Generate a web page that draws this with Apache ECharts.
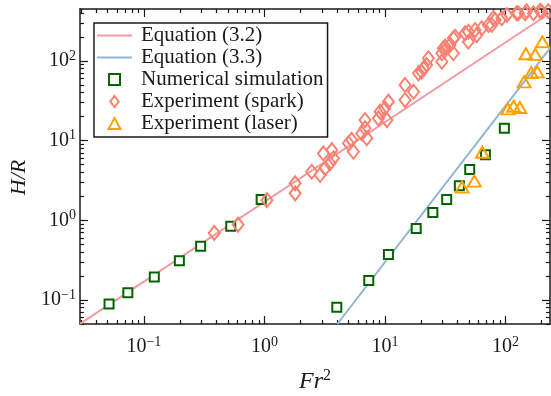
<!DOCTYPE html>
<html>
<head>
<meta charset="utf-8">
<script src="https://cdn.jsdelivr.net/npm/echarts@6/dist/echarts.min.js"></script>
<style>
  html, body { margin: 0; padding: 0; background: #fff; }
  #chart { width: 551px; height: 396px; }
</style>
</head>
<body>
<div id="chart"></div>
<script>
// axis ranges and decade ticks
const xRange = [0.0295, 234.6]
const yRange = [0.05, 448]
const xMajor = [0.1, 1, 10, 100]
const yMajor = [0.1, 1, 10, 100]

// Equation (3.2) and (3.3), end points
const eq32X = [0.0295, 234.6]
const eq32Y = [0.0502, 399]
const eq33X = [4.03, 234.6]
const eq33Y = [0.05, 145]

// numerical simulation
const simX = [0.0514, 0.0736, 0.122, 0.197, 0.296, 0.526, 0.94, 3.99, 7.35, 10.7, 18.2, 25.0, 32.6, 41.5, 50.6, 68.3, 98.1]
const simY = [0.089, 0.123, 0.194, 0.310, 0.473, 0.841, 1.83, 0.081, 0.176, 0.373, 0.787, 1.25, 1.83, 2.71, 4.34, 6.63, 14.3]

// experiment (spark)
const sparkX = [0.384, 0.605, 1.05, 1.8, 1.8, 2.47, 2.9, 3.09, 3.19, 3.63, 3.74, 3.5, 4.98, 5.3, 5.48, 6.43, 6.84, 7.08, 6.84,
  8.83, 9.12, 10.4, 10.7, 10.0, 14.7, 14.7, 17.3, 19.0, 20.2, 20.9, 23.0, 22.2, 29.7, 29.7, 31.6, 31.6, 37.0, 30.6, 37.0, 34.7,
  38.3, 46.3, 49.3, 49.3, 56.0, 57.9, 63.7, 72.3, 77.1, 79.5, 82.2, 93.4, 103, 124, 128, 146, 150, 171, 194, 200, 227]
const sparkY = [0.695, 0.883, 1.79, 2.18, 2.91, 4.07, 3.7, 6.9, 4.49, 7.6, 6.0, 5.19, 9.25, 10.2, 7.26, 12.3, 18.1, 10.7, 14.3,
  19.0, 23.1, 18.1, 30.8, 25.4, 32.3, 49.9, 41.1, 69.9, 73.2, 80.7, 108, 88.9, 97.7, 125, 137, 151, 125, 144, 192, 158,
  201, 222, 232, 174, 244, 211, 257, 282, 282, 343, 326, 343, 377, 396, 396, 396, 420, 396, 425, 414, 420]

// experiment (laser)
const laserX = [43.7, 55.3, 64.4, 105, 117, 132, 143, 164, 184, 148, 177, 203]
const laserY = [2.61, 3.1, 7.14, 25, 27, 26, 54.6, 71.4, 72.9, 123, 121, 174]

const zip = (xs, ys) => xs.map((x, i) => [x, ys[i]])

// minor ticks 2..9 of each decade inside the range
function minorTicks (range) {
  let out = []
  for (let e = -3; e <= 3; e++) {
    for (let k = 2; k <= 9; k++) {
      let v = +(k * Math.pow(10, e)).toPrecision(3)
      if (v >= range[0] && v <= range[1]) out.push(v)
    }
  }
  return out
}

const serif = 'Liberation Serif'
const ink = '#1a1a1a'

function powLabel (v) {
  let p = Math.round(Math.log10(v))
  return '{b|10}{e|' + String(p).replace('-', '\u2212') + '}'
}
const labelRich = {
  b: { fontFamily: serif, fontSize: 20, color: ink },
  e: { fontFamily: serif, fontSize: 14, color: ink, padding: [0, 0, 10, 0] }
}

function makeAxis (pos, range, ticks, len, major, extra) {
  return Object.assign({
    type: 'log',
    position: pos,
    min: range[0],
    max: range[1],
    axisLine: { show: major, lineStyle: { color: ink, width: 1.5 } },
    axisTick: { show: true, inside: true, length: len, customValues: ticks, lineStyle: { color: ink, width: 1.2 } },
    axisLabel: { show: false },
    splitLine: { show: false },
    minorTick: { show: false }
  }, extra || {})
}

let chart = echarts.init(document.getElementById('chart'))
chart.setOption({
  animation: false,
  backgroundColor: '#fff',
  grid: { left: 80, right: 1, top: 9, bottom: 72, containLabel: false, outerBoundsMode: 'none' },
  legend: {
    orient: 'vertical',
    left: 94,
    top: 23,
    padding: [2, 4, 3, 3],
    itemWidth: 35,
    itemHeight: 11,
    itemGap: 1,
    symbolKeepAspect: true,
    borderColor: ink,
    borderWidth: 1.5,
    borderRadius: 0,
    backgroundColor: '#fff',
    textStyle: { fontFamily: serif, fontSize: 21, color: ink, lineHeight: 21, padding: [0, 0, 0, 4] },
    data: [
      { name: 'Equation (3.2)', icon: 'path://M0,0H35V2H0Z' },
      { name: 'Equation (3.3)', icon: 'path://M0,0H35V2H0Z' },
      { name: 'Numerical simulation', icon: 'path://M0,0H10V10H0Z' },
      { name: 'Experiment (spark)', icon: 'path://M5,0L10,6.5L5,13L0,6.5Z' },
      { name: 'Experiment (laser)', icon: 'path://M6,0L12,11L0,11Z' }
    ]
  },
  xAxis: [
    makeAxis('bottom', xRange, xMajor, 8, true, {
      axisLabel: {
        show: true, customValues: xMajor, margin: 11,
        formatter: powLabel, rich: labelRich
      },
      name: '{i|Fr}{s|2}',
      nameLocation: 'middle',
      nameGap: 44,
      nameTextStyle: {
        rich: {
          i: { fontFamily: serif, fontStyle: 'italic', fontSize: 24, color: ink },
          s: { fontFamily: serif, fontSize: 16, color: ink, padding: [0, 0, 12, 0] }
        }
      }
    }),
    makeAxis('bottom', xRange, minorTicks(xRange), 4, false),
    makeAxis('top', xRange, xMajor, 8, true),
    makeAxis('top', xRange, minorTicks(xRange), 4, false)
  ],
  yAxis: [
    makeAxis('left', yRange, yMajor, 8, true, {
      axisLabel: {
        show: true, customValues: yMajor, margin: 4,
        formatter: powLabel, rich: labelRich
      },
      name: 'H/R',
      nameLocation: 'middle',
      nameGap: 48,
      nameTextStyle: { fontFamily: serif, fontStyle: 'italic', fontSize: 22, color: ink, padding: [0, 22, 0, 0] }
    }),
    makeAxis('left', yRange, minorTicks(yRange), 4, false),
    makeAxis('right', yRange, yMajor, 8, true),
    makeAxis('right', yRange, minorTicks(yRange), 4, false)
  ],
  series: [
    {
      name: 'Equation (3.2)',
      type: 'line',
      data: zip(eq32X, eq32Y),
      symbol: 'none',
      lineStyle: { color: '#f29a9f', width: 2 },
      itemStyle: { color: '#f29a9f' },
      z: 2
    },
    {
      name: 'Equation (3.3)',
      type: 'line',
      data: zip(eq33X, eq33Y),
      symbol: 'none',
      lineStyle: { color: '#8fb5d1', width: 2 },
      itemStyle: { color: '#8fb5d1' },
      z: 2
    },
    {
      name: 'Numerical simulation',
      type: 'scatter',
      data: zip(simX, simY),
      symbol: 'rect',
      symbolSize: 9,
      itemStyle: { color: '#fff', borderColor: '#006400', borderWidth: 2, opacity: 1 },
      z: 3
    },
    {
      name: 'Experiment (spark)',
      type: 'scatter',
      data: zip(sparkX, sparkY),
      symbol: 'diamond',
      symbolSize: [11, 14],
      itemStyle: { color: 'rgba(255,255,255,0)', borderColor: '#fa8072', borderWidth: 2, opacity: 1 },
      z: 4
    },
    {
      name: 'Experiment (laser)',
      type: 'scatter',
      data: zip(laserX, laserY),
      symbol: 'triangle',
      symbolSize: [13, 11],
      itemStyle: { color: 'rgba(255,255,255,0)', borderColor: '#ffa200', borderWidth: 2, opacity: 1 },
      z: 5
    }
  ]
})
</script>
</body>
</html>
